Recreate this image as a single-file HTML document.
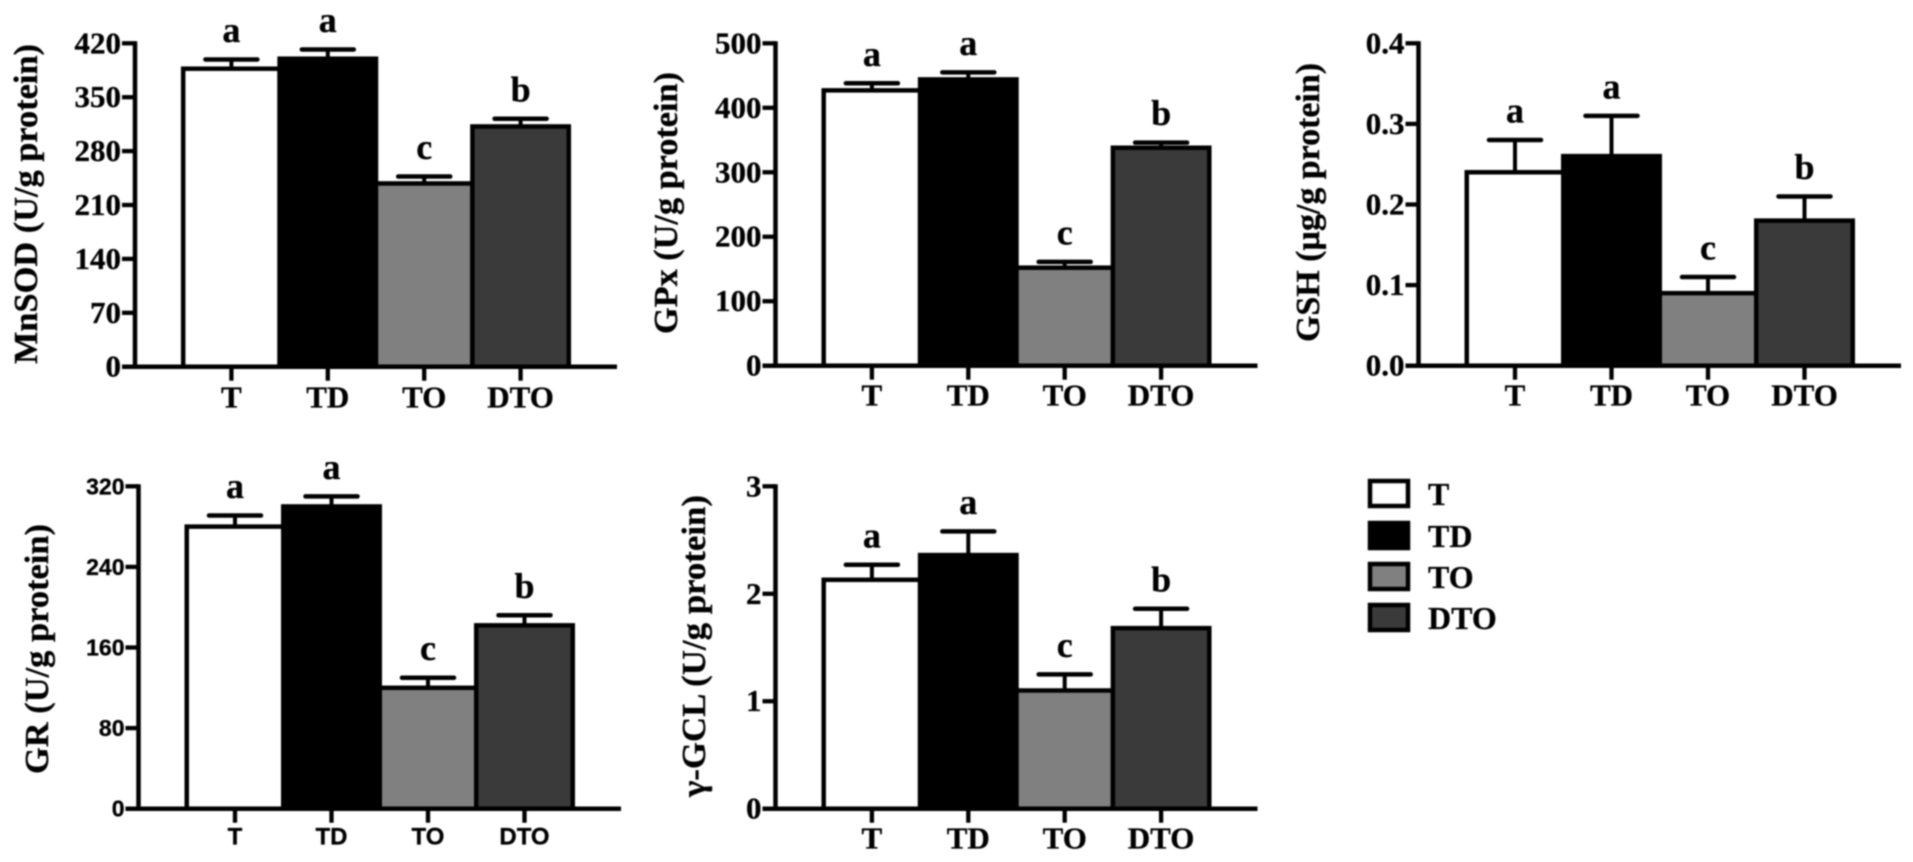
<!DOCTYPE html>
<html lang="en">
<head>
<meta charset="utf-8">
<title>Antioxidant enzyme bar charts</title>
<style>
html,body{margin:0;padding:0;background:#fff;}
body{width:1913px;height:862px;overflow:hidden;}
svg{display:block;filter:blur(0.8px);}
text{font-family:"Liberation Serif",serif;font-weight:bold;fill:#000;stroke:#000;stroke-width:0.3px;}
text.sans{font-family:"Liberation Sans",sans-serif;}
</style>
</head>
<body>
<svg id="figure" xmlns="http://www.w3.org/2000/svg" width="1913" height="862" viewBox="0 0 1913 862">
  <g>
    <rect x="1370" y="481" width="38" height="25" fill="#fff" stroke="#000" stroke-width="4.5"/>
    <text x="1428" y="505" font-size="32">T</text>
    <rect x="1370" y="523" width="38" height="25" fill="#000" stroke="#000" stroke-width="4.5"/>
    <text x="1428" y="547" font-size="32">TD</text>
    <rect x="1370" y="564" width="38" height="25" fill="#808080" stroke="#000" stroke-width="4.5"/>
    <text x="1428" y="588" font-size="32">TO</text>
    <rect x="1370" y="605" width="38" height="25" fill="#3a3a3a" stroke="#000" stroke-width="4.5"/>
    <text x="1428" y="629" font-size="32">DTO</text>
  </g>
</svg>
<script>
const categories = ["T", "TD", "TO", "DTO"];
const sigLetters = ["a", "a", "c", "b"];
const barFills = ["#ffffff", "#000000", "#808080", "#3a3a3a"];

const mnsodTicks = ["0", "70", "140", "210", "280", "350", "420"];
const mnsodMeans = [387, 400, 238, 312];
const mnsodUpper = [399, 412, 247, 322];

const gpxTicks = ["0", "100", "200", "300", "400", "500"];
const gpxMeans = [427, 444, 152, 338];
const gpxUpper = [438, 455, 161, 346];

const gshTicks = ["0.0", "0.1", "0.2", "0.3", "0.4"];
const gshMeans = [0.24, 0.26, 0.09, 0.18];
const gshUpper = [0.28, 0.31, 0.11, 0.21];

const grTicks = ["0", "80", "160", "240", "320"];
const grMeans = [280, 300, 120, 182];
const grUpper = [291, 310, 130, 192];

const gclTicks = ["0", "1", "2", "3"];
const gclMeans = [2.13, 2.36, 1.1, 1.68];
const gclUpper = [2.27, 2.58, 1.25, 1.86];

const svgNS = "http://www.w3.org/2000/svg";
const root = document.getElementById("figure");

function make(parent, tag, props) {
  const el = document.createElementNS(svgNS, tag);
  for (const k in props) el.setAttribute(k, props[k]);
  parent.appendChild(el);
  return el;
}

function drawPanel(p) {
  const pitch = p.pitch;
  const maxVal = parseFloat(p.ticks[p.ticks.length - 1]);
  const yScale = v => p.y0 - (v / maxVal) * (p.y0 - p.yTop);
  const xCenter = i => p.axisX + pitch * (i + 1);
  const fontClass = p.sans ? "sans" : "";

  const g = make(root, "g", {});
  
  

  categories.forEach((cat, i) => {
    const c = xCenter(i);
    const stem = make(g, "line", {x1: c, x2: c, y1: yScale(p.means[i]), y2: yScale(p.upper[i]), stroke: "#000", "stroke-width": 4});
    
    
    const cap = make(g, "line", {x1: c - 26, x2: c + 26, y1: yScale(p.upper[i]), y2: yScale(p.upper[i]), stroke: "#000", "stroke-width": 4.5, "stroke-linecap": "round"});
    
    
  });

  categories.forEach((cat, i) => {
    const c = xCenter(i);
    const bar = make(g, "rect", {x: c - pitch / 2, y: yScale(p.means[i]), width: pitch, height: p.y0 - yScale(p.means[i]), fill: barFills[i], stroke: "#000", "stroke-width": 4.5});
    
    

    const letter = make(g, "text", {x: c, y: yScale(p.upper[i]) - 17.5, "text-anchor": "middle", "font-size": 36});
    letter.textContent = sigLetters[i];
    
    

    const tick = make(g, "line", {x1: c, x2: c, y1: p.y0, y2: p.y0 + 14, stroke: "#000", "stroke-width": 4.3});
    
    

    const label = make(g, "text", {x: c, y: p.y0 + p.xLabelDy, "text-anchor": "middle", "font-size": p.sans ? 24 : 31, class: fontClass});
    label.textContent = cat;
    
    
  });

  const yAxis = make(g, "line", {x1: p.axisX, x2: p.axisX, y1: p.yTop - 2, y2: p.y0 + 2, stroke: "#000", "stroke-width": 4.5});
  
  

  const xAxis = make(g, "line", {x1: p.axisX - 13, x2: p.axisX + pitch * 5, y1: p.y0, y2: p.y0, stroke: "#000", "stroke-width": 4.5});
  
  

  p.ticks.forEach(t => {
    const y = yScale(parseFloat(t));
    const tick = make(g, "line", {x1: p.axisX - 13, x2: p.axisX, y1: y, y2: y, stroke: "#000", "stroke-width": 4.3});
    
    
    const label = make(g, "text", {x: p.axisX - 14, y: y + (p.sans ? 8 : 10), "text-anchor": "end", "font-size": p.sans ? 23 : 31, class: fontClass});
    label.textContent = t;
    
    
  });

  const title = make(g, "text", {
    transform: "translate(" + p.titleX + "," + p.titleBottom + ") rotate(-90)",
    x: 0, y: 0, "font-size": 34,
    textLength: p.titleLen, lengthAdjust: "spacingAndGlyphs"
  });
  title.textContent = p.title;
  
  
}

drawPanel({key: "mnsod", title: "MnSOD (U/g protein)", ticks: mnsodTicks, means: mnsodMeans, upper: mnsodUpper,
  axisX: 135, y0: 366.7, yTop: 43.3, pitch: 96.4, xLabelDy: 41, titleX: 37, titleBottom: 364, titleLen: 320});
drawPanel({key: "gpx", title: "GPx (U/g protein)", ticks: gpxTicks, means: gpxMeans, upper: gpxUpper,
  axisX: 775.5, y0: 365.7, yTop: 43.3, pitch: 96.4, xLabelDy: 40, titleX: 677, titleBottom: 334, titleLen: 262});
drawPanel({key: "gsh", title: "GSH (µg/g protein)", ticks: gshTicks, means: gshMeans, upper: gshUpper,
  axisX: 1418.5, y0: 365.7, yTop: 43.3, pitch: 96.5, xLabelDy: 40, titleX: 1319, titleBottom: 342, titleLen: 279});
drawPanel({key: "gr", title: "GR (U/g protein)", ticks: grTicks, means: grMeans, upper: grUpper,
  axisX: 138.5, y0: 808.7, yTop: 486.3, pitch: 96.5, xLabelDy: 36, sans: true, titleX: 48, titleBottom: 774, titleLen: 250});
drawPanel({key: "gcl", title: "γ-GCL (U/g protein)", ticks: gclTicks, means: gclMeans, upper: gclUpper,
  axisX: 775.5, y0: 808.7, yTop: 486.3, pitch: 96.4, xLabelDy: 40, titleX: 705, titleBottom: 797, titleLen: 302});
</script>
</body>
</html>
